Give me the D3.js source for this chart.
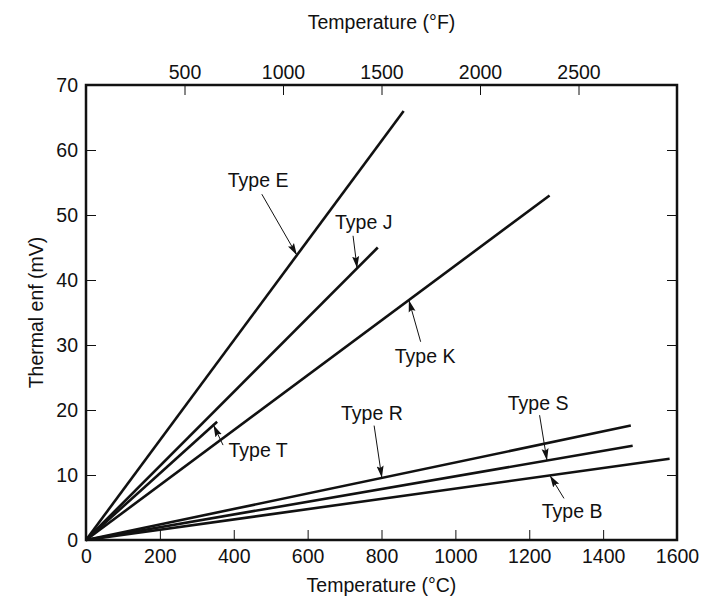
<!DOCTYPE html>
<html>
<head>
<meta charset="utf-8">
<script src="https://cdn.jsdelivr.net/npm/d3@7"></script>
<style>
  body { margin: 0; background: #fff; }
  svg text { font-family: "Liberation Sans", Arial, sans-serif; fill: #111; }
</style>
</head>
<body>
<div class="canvas"></div>
<script>
// Data
const types   = ["E", "J", "K", "T", "R", "S", "B"];
const endTemp = [860, 790, 1255, 355, 1475, 1480, 1580];   // degC at line end
const endEmf  = [66, 45, 53, 18.2, 17.6, 14.5, 12.5];      // mV at line end

const celsiusTicks = [0, 200, 400, 600, 800, 1000, 1200, 1400, 1600];
const fahrenheitTicks = [500, 1000, 1500, 2000, 2500];
const emfTicks = [0, 10, 20, 30, 40, 50, 60, 70];

// label annotations: text centre, arrow start, arrow tip temperature on the line
const labelTemp  = [466, 752, 918, 466, 774, 1224, 1316];
const labelEmf   = [55.4, 48.9, 28.3, 13.8, 19.5, 21.1, 4.5];
const arrowTemp  = [476, 723, 906, 371, 780, 1228, 1294];
const arrowEmf   = [53.2, 46.8, 30.5, 14.6, 17.6, 19.2, 6.4];
const tipTemp    = [571, 734, 874, 345, 801, 1248, 1256];

// Set dimensions & margins
const margin = { top: 85, right: 29, bottom: 59, left: 86 };
const width = 706 - margin.left - margin.right;
const height = 599 - margin.top - margin.bottom;

const fs = 19.5;

const x = d3.scaleLinear().domain([0, 1600]).range([0, width]);
const xF = d3.scaleLinear().domain([0, 3000]).range([0, width]);
const y = d3.scaleLinear().domain([0, 70]).range([height, 0]);

const svg = d3.select(".canvas")
  .append("svg")
    .attr("width", width + margin.left + margin.right)
    .attr("height", height + margin.top + margin.bottom)
  .append("g")
    .attr("transform", `translate(${margin.left}, ${margin.top})`);

svg.append("defs").append("marker")
    .attr("id", "head")
    .attr("viewBox", "0 -4 12 8")
    .attr("refX", 12).attr("refY", 0)
    .attr("markerUnits", "userSpaceOnUse")
    .attr("markerWidth", 12).attr("markerHeight", 8)
    .attr("orient", "auto")
  .append("path")
    .attr("d", "M0,-3.5L12,0L0,3.5L2,0Z")
    .attr("fill", "#111");

// axes (ticks pointing inward)
function styleAxis(g) {
  g.select(".domain").remove();
  g.selectAll(".tick line").attr("stroke", "#111").attr("stroke-width", 1);
  g.selectAll(".tick text").attr("font-size", fs).attr("fill", "#111");
}

svg.append("g")
    .attr("transform", `translate(0,${height})`)
    .call(d3.axisBottom(x).tickValues(celsiusTicks).tickFormat(d3.format("d"))
      .tickSize(-10).tickPadding(9))
    .call(styleAxis);

svg.append("g")
    .call(d3.axisTop(xF).tickValues(fahrenheitTicks).tickFormat(d3.format("d"))
      .tickSize(-10).tickPadding(6))
    .call(styleAxis);

svg.append("g")
    .call(d3.axisLeft(y).tickValues(emfTicks).tickSize(-10).tickPadding(8))
    .call(styleAxis);

svg.append("g")
    .attr("transform", `translate(${width},0)`)
    .call(d3.axisRight(y).tickValues(emfTicks).tickSize(-10).tickFormat(""))
    .call(styleAxis);

// frame
svg.append("rect")
    .attr("width", width)
    .attr("height", height)
    .attr("fill", "none")
    .attr("stroke", "#111")
    .attr("stroke-width", 2.5);

// thermocouple lines
const line = d3.line()
    .x(d => x(d[0]))
    .y(d => y(d[1]));

svg.selectAll(".tc")
  .data(types)
  .join("path")
    .attr("class", "tc")
    .attr("fill", "none")
    .attr("stroke", "#111")
    .attr("stroke-width", 2.6)
    .attr("d", (t, i) => line([[0, 0], [endTemp[i], endEmf[i]]]));

// arrows
svg.selectAll(".arrow")
  .data(types)
  .join("line")
    .attr("class", "arrow")
    .attr("x1", (t, i) => x(arrowTemp[i]))
    .attr("y1", (t, i) => y(arrowEmf[i]))
    .attr("x2", (t, i) => x(tipTemp[i]))
    .attr("y2", (t, i) => y(endEmf[i] * tipTemp[i] / endTemp[i]))
    .attr("stroke", "#111")
    .attr("stroke-width", 1)
    .attr("marker-end", "url(#head)");

svg.selectAll(".lbl")
  .data(types)
  .join("text")
    .attr("class", "lbl")
    .attr("x", (t, i) => x(labelTemp[i]))
    .attr("y", (t, i) => y(labelEmf[i]))
    .attr("dy", "0.36em")
    .attr("text-anchor", "middle")
    .attr("font-size", fs)
    .text(t => "Type " + t);

// axis titles
svg.append("text")
    .attr("x", width / 2)
    .attr("y", height + 52)
    .attr("text-anchor", "middle")
    .attr("font-size", fs)
    .text("Temperature (°C)");

svg.append("text")
    .attr("x", width / 2)
    .attr("y", -56)
    .attr("text-anchor", "middle")
    .attr("font-size", fs)
    .text("Temperature (°F)");

svg.append("text")
    .attr("transform", `translate(-43,${height / 2}) rotate(-90)`)
    .attr("text-anchor", "middle")
    .attr("font-size", fs)
    .text("Thermal enf (mV)");
</script>
</body>
</html>
